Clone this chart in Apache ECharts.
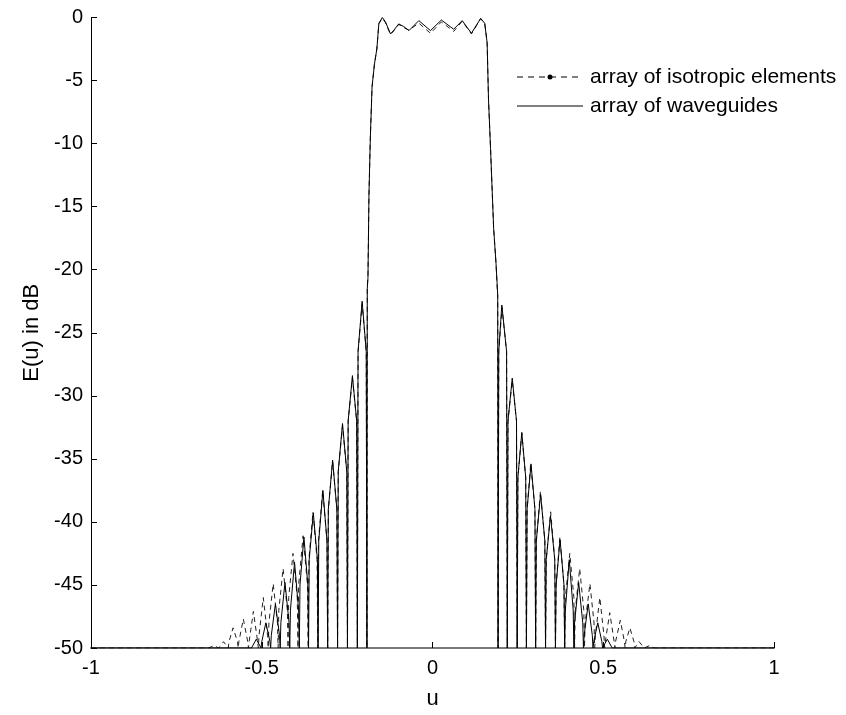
<!DOCTYPE html>
<html>
<head>
<meta charset="utf-8">
<script src="https://cdn.jsdelivr.net/npm/echarts@6/dist/echarts.min.js"></script>
<style>html,body{margin:0;padding:0;background:#fff;}#c{width:846px;height:715px;}</style>
</head>
<body>
<div id="c"></div>
<script>
// ---- data ----
const xTicks = [-1, -0.5, 0, 0.5, 1];
const yTicks = [-50, -45, -40, -35, -30, -25, -20, -15, -10, -5, 0];
const legendNames = ['array of isotropic elements', 'array of waveguides'];

// array of waveguides (solid)
const wgU = [
  -1, -0.530, -0.516, -0.502,
  -0.500, -0.488, -0.476, -0.474,
  -0.472, -0.460, -0.448, -0.446,
  -0.444, -0.432, -0.420, -0.418,
  -0.416, -0.404, -0.392, -0.390,
  -0.388, -0.3765, -0.365, -0.363,
  -0.361, -0.349, -0.337, -0.335,
  -0.333, -0.321, -0.309, -0.307,
  -0.305, -0.2925, -0.280, -0.278,
  -0.276, -0.2635, -0.251, -0.249,
  -0.247, -0.2345, -0.222, -0.220,
  -0.218, -0.206, -0.194, -0.192,
  -0.191, -0.189, -0.186, -0.182, -0.177, -0.170, -0.163, -0.157, -0.147, -0.138,
  -0.123, -0.113, -0.099, -0.084, -0.069, -0.040, -0.006, 0.026, 0.062, 0.087,
  0.114, 0.141, 0.153, 0.160, 0.164, 0.170, 0.179, 0.186, 0.189, 0.191, 0.192,
  0.194, 0.203, 0.217, 0.219,
  0.221, 0.2335, 0.246, 0.248,
  0.250, 0.2615, 0.273, 0.275,
  0.277, 0.2885, 0.300, 0.302,
  0.304, 0.3165, 0.329, 0.331,
  0.333, 0.3455, 0.358, 0.360,
  0.362, 0.3735, 0.385, 0.387,
  0.389, 0.4005, 0.412, 0.414,
  0.416, 0.428, 0.440, 0.442,
  0.444, 0.456, 0.468, 0.470,
  0.472, 0.484, 0.496, 0.498,
  0.512, 0.526, 1
];
const wgDB = [
  -50, -50, -49.3, -50,
  -49.5, -48.0, -49.5, -50,
  -49, -46.5, -49, -50,
  -48, -44.8, -48, -50,
  -47, -43.2, -47, -50,
  -45, -41.2, -45, -50,
  -43, -39.3, -43, -50,
  -41.5, -37.5, -41.5, -50,
  -39, -35.1, -39, -50,
  -36, -32.2, -36, -50,
  -32, -28.4, -32, -50,
  -26.5, -22.5, -26.5, -50,
  -21.5, -20.7, -14, -9.5, -5.5, -3.7, -2.5, -0.46, 0, -0.33,
  -1.3, -1.0, -0.51, -0.72, -1.04, -0.25, -1.04, -0.2, -0.93, -0.25,
  -1.25, -0.07, -0.46, -2.0, -6.5, -10.4, -16.7, -19.5, -21, -22, -50,
  -26.5, -22.8, -26.5, -50,
  -32, -28.6, -32, -50,
  -36.5, -32.9, -36.5, -50,
  -39, -35.4, -39, -50,
  -41.5, -37.8, -41.5, -50,
  -43, -39.5, -43, -50,
  -45, -41.4, -45, -50,
  -47, -43.0, -47, -50,
  -48, -44.8, -48, -50,
  -49, -46.5, -49, -50,
  -49.5, -48.0, -49.5, -50,
  -49.3, -50, -50
];

// array of isotropic elements (dashed)
const isoU = [
  -1, -0.655, -0.640, -0.626, -0.612, -0.598,
  -0.596, -0.584, -0.571, -0.569,
  -0.567, -0.554, -0.541, -0.539,
  -0.537, -0.5245, -0.512, -0.510,
  -0.508, -0.4955, -0.483, -0.481,
  -0.479, -0.4665, -0.454, -0.452,
  -0.450, -0.4375, -0.425, -0.423,
  -0.421, -0.4085, -0.396, -0.394,
  -0.392, -0.379, -0.366, -0.364,
  -0.362, -0.350, -0.338, -0.336,
  -0.334, -0.3215, -0.309, -0.307,
  -0.305, -0.2925, -0.280, -0.278,
  -0.276, -0.2635, -0.251, -0.249,
  -0.247, -0.2345, -0.222, -0.220,
  -0.218, -0.206, -0.194, -0.192,
  -0.191, -0.189, -0.186, -0.182, -0.177, -0.170, -0.163, -0.157, -0.147, -0.138,
  -0.123, -0.113, -0.099, -0.084, -0.069, -0.040, -0.006, 0.026, 0.062, 0.087,
  0.114, 0.141, 0.153, 0.160, 0.164, 0.170, 0.179, 0.186, 0.189, 0.191, 0.192,
  0.194, 0.2035, 0.217, 0.219,
  0.221, 0.2335, 0.246, 0.248,
  0.250, 0.2615, 0.273, 0.275,
  0.277, 0.2875, 0.300, 0.302,
  0.304, 0.316, 0.329, 0.331,
  0.333, 0.346, 0.358, 0.360,
  0.362, 0.373, 0.385, 0.387,
  0.389, 0.402, 0.414, 0.416,
  0.418, 0.431, 0.443, 0.445,
  0.447, 0.461, 0.473, 0.475,
  0.477, 0.490, 0.502, 0.504,
  0.506, 0.519, 0.532, 0.534,
  0.536, 0.550, 0.562, 0.564,
  0.566, 0.578, 0.590, 0.592,
  0.605, 0.620, 0.636, 0.650, 1
];
const isoDB = [
  -50, -50, -49.8, -50, -49.5, -50,
  -49.5, -48.4, -49.5, -50,
  -49.5, -47.7, -49.5, -50,
  -49.5, -47.1, -49.5, -50,
  -49, -46.0, -49, -50,
  -48, -44.9, -48, -50,
  -47, -43.7, -47, -50,
  -46, -42.5, -46, -50,
  -45, -41.1, -45, -50,
  -43, -39.2, -43, -50,
  -41.5, -37.5, -41.5, -50,
  -39, -35.2, -39, -50,
  -36, -32.4, -36, -50,
  -32, -28.6, -32, -50,
  -26.5, -22.7, -26.5, -50,
  -21.3, -20.5, -14, -9.5, -5.5, -3.7, -2.5, -0.5, -0.05, -0.4,
  -1.35, -1.05, -0.55, -0.8, -1.0, -0.45, -1.25, -0.35, -1.1, -0.3,
  -1.3, -0.1, -0.5, -2.0, -6.5, -10.4, -16.7, -19.5, -21.2, -22.2, -50,
  -26.5, -23.0, -26.5, -50,
  -32, -28.8, -32, -50,
  -36.5, -33.0, -36.5, -50,
  -39, -35.4, -39, -50,
  -41.5, -37.6, -41.5, -50,
  -43, -39.2, -43, -50,
  -45, -41.2, -45, -50,
  -46, -42.5, -46, -50,
  -47, -43.7, -47, -50,
  -48, -44.9, -48, -50,
  -49, -46.0, -49, -50,
  -49.5, -47.2, -49.5, -50,
  -49.5, -47.8, -49.5, -50,
  -49.5, -48.4, -49.5, -50,
  -49.5, -50, -49.8, -50, -50
];

const zip = (a, b) => a.map((v, i) => [v, b[i]]);
const FONT = 'Liberation Sans, Arial, Helvetica, sans-serif';

const chart = echarts.init(document.getElementById('c'), null, {renderer: 'canvas'});
chart.setOption({
  backgroundColor: '#ffffff',
  animation: false,
  grid: {left: 91, right: 72, top: 17.5, bottom: 63, containLabel: false},
  xAxis: {
    type: 'value', min: xTicks[0], max: xTicks[xTicks.length - 1], interval: 0.5,
    name: 'u', nameLocation: 'middle', nameGap: 40,
    nameTextStyle: {fontFamily: FONT, fontSize: 22, color: '#000'},
    axisLine: {show: true, onZero: false, lineStyle: {color: '#7a7a7a', width: 2}},
    axisTick: {show: true, inside: true, length: 6, lineStyle: {color: '#000', width: 1}},
    axisLabel: {fontFamily: FONT, fontSize: 20, color: '#000', margin: 10},
    splitLine: {show: false}
  },
  yAxis: {
    type: 'value', min: yTicks[0], max: yTicks[yTicks.length - 1], interval: 5,
    name: 'E(u) in dB', nameLocation: 'middle', nameGap: 47, nameRotate: 90,
    nameTextStyle: {fontFamily: FONT, fontSize: 22, color: '#000'},
    axisLine: {show: true, onZero: false, lineStyle: {color: '#000', width: 1}},
    axisTick: {show: true, inside: true, length: 6, lineStyle: {color: '#000', width: 1}},
    axisLabel: {fontFamily: FONT, fontSize: 20, color: '#000', margin: 8},
    splitLine: {show: false}
  },
  series: [
    {
      name: legendNames[0], type: 'line', data: zip(isoU, isoDB), showSymbol: false, symbol: 'none',
      lineStyle: {color: '#222', width: 1, type: [5, 4]}, clip: true, z: 2
    },
    {
      name: legendNames[1], type: 'line', data: zip(wgU, wgDB), showSymbol: false, symbol: 'none',
      lineStyle: {color: '#000', width: 1}, clip: true, z: 3
    }
  ],
  graphic: [
    {type: 'line', shape: {x1: 517, y1: 77, x2: 583, y2: 77}, style: {stroke: '#000', lineWidth: 1, lineDash: [6, 5]}},
    {type: 'circle', shape: {cx: 550, cy: 77, r: 2.5}, style: {fill: '#000'}},
    {type: 'text', x: 590, y: 77, style: {text: legendNames[0], font: '21px ' + FONT, fill: '#000', textVerticalAlign: 'middle', verticalAlign: 'middle'}},
    {type: 'line', shape: {x1: 517, y1: 106, x2: 583, y2: 106}, style: {stroke: '#000', lineWidth: 1}},
    {type: 'text', x: 590, y: 106, style: {text: legendNames[1], font: '21px ' + FONT, fill: '#000', textVerticalAlign: 'middle', verticalAlign: 'middle'}}
  ]
});
</script>
</body>
</html>
